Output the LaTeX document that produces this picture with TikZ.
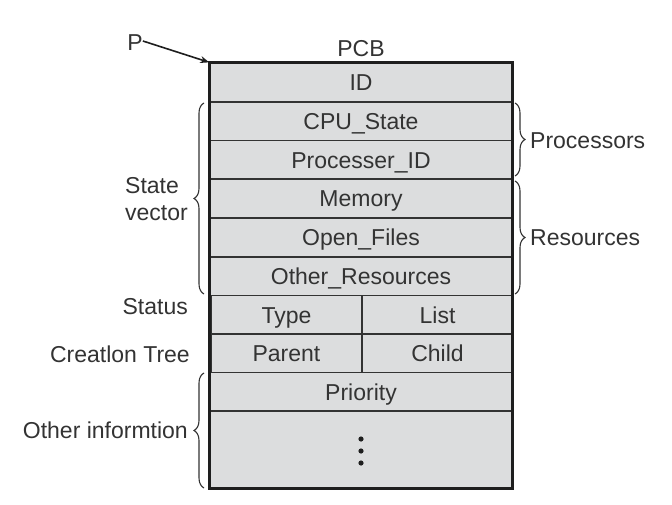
\documentclass[tikz,border=0pt]{standalone}
\usepackage{fontspec}
\setmainfont{Liberation Sans}
\usetikzlibrary{decorations.pathreplacing,calc,arrows.meta}
\definecolor{cellfill}{HTML}{DCDDDE}
\definecolor{ink}{HTML}{333333}
\definecolor{frame}{HTML}{1E1E1E}
\begin{document}
\begin{tikzpicture}[x=1pt,y=-1pt,
  txt/.style={text=ink,font=\fontsize{23}{27}\selectfont,inner sep=0pt},
  cell/.style={txt,draw=ink,line width=1.6pt,fill=cellfill,minimum height=38.7pt,
    text height=16.5pt,text depth=0pt},
  wide/.style={cell,minimum width=302pt},
  half/.style={cell,minimum width=151pt},
  lbl/.style={txt,text height=16.5pt,text depth=0pt},
  brc/.style={draw=ink,line width=1.1pt,decorate,decoration={brace,amplitude=10pt}},
]
\useasboundingbox (0,0) rectangle (672,505);

% PCB fields, top to bottom
\node[wide] (id)    at (361,82.5)  {ID};
\node[wide] (cpu)   at (361,121.5) {CPU\_State};
\node[wide] (proc)  at (361,160)   {Processer\_ID};
\node[wide] (mem)   at (361,198.5) {Memory};
\node[wide] (files) at (361,237.5) {Open\_Files};
\node[wide] (res)   at (361,276.5) {Other\_Resources};
\node[half] (type)  at (286.5,315) {Type};
\node[half] (list)  at (437.5,315) {List};
\node[half] (par)   at (286.5,353.5) {Parent};
\node[half] (child) at (437.5,353.5) {Child};
\node[wide] (prio)  at (361,392)   {Priority};
\node[wide,minimum height=77pt] (more) at (361,449.5) {};
\foreach \dy in {-12,0,12}
  \fill[frame] ($(more.center)+(0,\dy+1.5)$) circle (2.6pt);

% heavy outline of the whole block
\draw[frame,line width=3pt] (id.north west) rectangle (more.south east);

% captions
\node[lbl] (pcb) at (361,48) {PCB};
\node[lbl] (p)   at (135,42) {P};
\draw[frame,line width=1.6pt,-{Stealth[length=9pt,width=7pt]}] ([yshift=1pt]p.east) -- (id.north west);

% left side labels and braces
\node[txt,align=left,anchor=west] (sv) at (125,199) {State\\vector};
\node[lbl,anchor=east] (status) at (188,306) {Status};
\node[lbl,anchor=east] (tree)   at (190,354) {Creatlon Tree};
\node[lbl,anchor=east] (other)  at (188,430) {Other informtion};

\coordinate (svtop) at (204,103);
\coordinate (svbot) at (204,294);
\coordinate (ottop) at (204,373);
\coordinate (otbot) at (204,488);
\draw[brc] (svbot) -- (svtop);
\draw[brc] (otbot) -- (ottop);

% right side labels and braces
\coordinate (prtop) at (515,103);
\coordinate (prbot) at (515,176);
\coordinate (rstop) at (515,181);
\coordinate (rsbot) at (515,294);
\draw[brc] (prtop) -- (prbot);
\draw[brc] (rstop) -- (rsbot);
\node[lbl,anchor=west] (cpus) at (530,140.5) {Processors};
\node[lbl,anchor=west] (rsrc) at (530,237.5) {Resources};
\end{tikzpicture}
\end{document}
